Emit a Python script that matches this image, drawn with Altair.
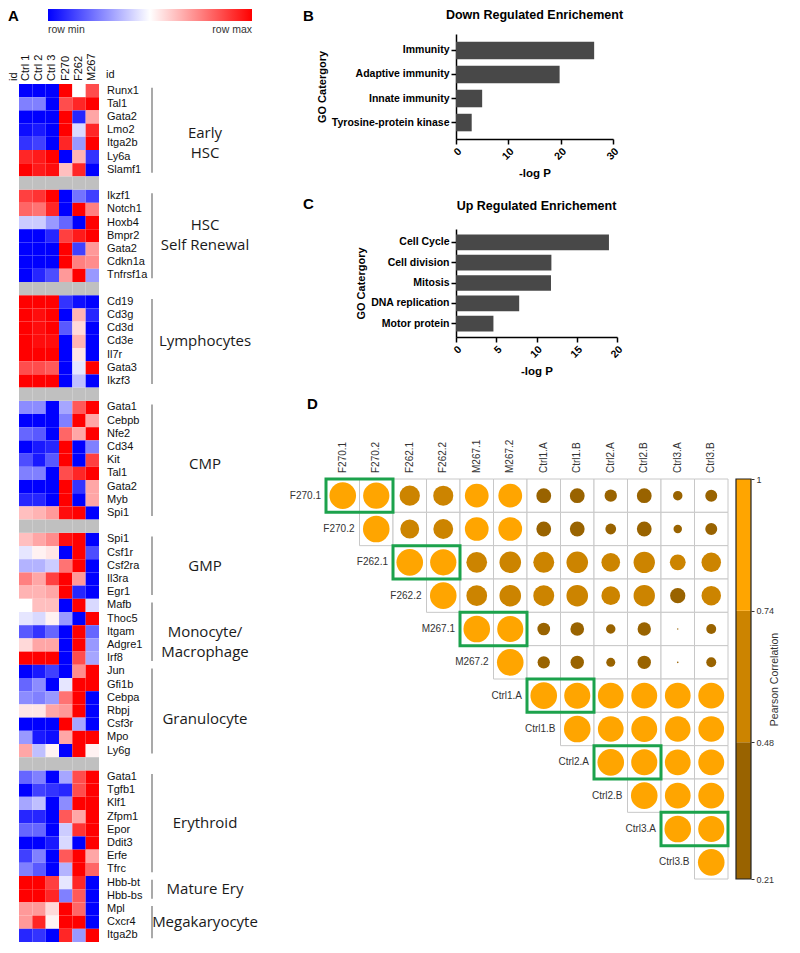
import altair as alt
import pandas as pd

# ---------------- Panel A : heatmap data ----------------
samples = ["Ctrl 1", "Ctrl 2", "Ctrl 3", "F270", "F262", "M267"]

early_hsc_genes = ["Runx1", "Tal1", "Gata2", "Lmo2", "Itga2b", "Ly6a", "Slamf1"]
early_hsc_vals = [
    [-1, -1, -1, 1, 0, 0.7],
    [-0.5, -0.5, -1, 0.7, 0.85, 1],
    [-1, -1, -1, 1, -0.85, 0.35],
    [-0.95, -0.9, -1, 1, -0.15, 0.85],
    [-0.8, -0.75, -1, 0.85, -0.4, 1],
    [0.85, 0.9, 1, -1, 0.3, -0.8],
    [1, 0.9, 0.95, 0.25, 0.85, -1],
]
hsc_sr_genes = ["Ikzf1", "Notch1", "Hoxb4", "Bmpr2", "Gata2", "Cdkn1a", "Tnfrsf1a"]
hsc_sr_vals = [
    [0.75, 0.8, 1, -1, -0.55, -0.75],
    [0.6, 0.55, 0.85, -1, 1, 0.5],
    [-0.2, -0.2, -0.4, -0.6, -1, 1],
    [-1, -1, -0.85, 0.75, 0.9, 1],
    [-1, -1, -1, 1, -0.75, 0.4],
    [-1, -1, -1, 1, 0.5, 0.45],
    [-1, -0.85, -0.7, 0.4, 1, -0.4],
]
lympho_genes = ["Cd19", "Cd3g", "Cd3d", "Cd3e", "Il7r", "Gata3", "Ikzf3"]
lympho_vals = [
    [1, 1, 1, -0.8, -0.95, -1],
    [1, 0.95, 1, -1, 0.3, -0.85],
    [1, 0.95, 1, -0.65, 0.15, -1],
    [1, 0.95, 0.95, -1, 0.3, -1],
    [1, 1, 1, -1, 0.1, -1],
    [0.7, 0.7, 0.65, -1, -0.1, 1],
    [1, 1, 1, -1, -0.25, -1],
]
cmp_genes = ["Gata1", "Cebpb", "Nfe2", "Cd34", "Kit", "Tal1", "Gata2", "Myb", "Spi1"]
cmp_vals = [
    [-0.45, -0.45, -1, -0.35, 0.65, 1],
    [-1, -1, -1, -0.5, 1, 0.35],
    [-0.6, -0.65, -1, 0.6, 0.35, 1],
    [-1, -0.9, -0.85, 1, -1, -0.5],
    [-0.7, -0.9, -0.65, 1, -1, 0.75],
    [-0.5, -0.5, -1, 0.7, 0.85, 1],
    [-1, -1, -1, 1, -0.8, 0.35],
    [-0.85, -0.85, -1, 1, -1, 0.35],
    [0.25, 0.3, 0.4, 0.95, 1, -1],
]
gmp_genes = ["Spi1", "Csf1r", "Csf2ra", "Il3ra", "Egr1"]
gmp_vals = [
    [0.25, 0.35, 0.45, 0.95, 1, -1],
    [-0.1, 0.05, 0.1, -1, 1, -0.7],
    [-0.3, -0.3, -0.2, 0.55, 1, -1],
    [0.5, 0.35, 0.75, 1, 0.4, -1],
    [0.3, 0.3, 0.35, 1, -0.85, -1],
]
mono_genes = ["Mafb", "Thoc5", "Itgam", "Adgre1", "Irf8"]
mono_vals = [
    [0.0, 0.25, 0.25, -1, 1, -0.15],
    [-0.1, -0.15, 0.05, -0.4, -1, 1],
    [-0.65, -0.8, -0.6, -1, 1, -0.6],
    [0.15, 0.35, 0.35, -1, 1, -0.4],
    [1, 1, 1, -1, 0.7, -0.35],
]
gran_genes = ["Jun", "Gfi1b", "Cebpa", "Rbpj", "Csf3r", "Mpo", "Ly6g"]
gran_vals = [
    [-1, -0.9, -0.75, -1, 0.45, 1],
    [-0.6, -0.45, -1, -0.1, 1, 1],
    [-0.45, -0.5, -0.4, 0.55, 1, -1],
    [0.1, 0.1, 0.35, 0.4, 1, -1],
    [-1, -1, -1, 1, -0.35, -1],
    [-0.4, -0.9, -0.95, 0.35, 1, 1],
    [0.35, -0.25, 0.05, -1, 1, 0.05],
]
ery_genes = ["Gata1", "Tgfb1", "Klf1", "Zfpm1", "Epor", "Ddit3", "Erfe", "Tfrc"]
ery_vals = [
    [-0.6, -0.5, -1, -0.35, 0.7, 1],
    [-1, -0.75, -0.8, -0.85, 0.7, 1],
    [-0.35, -0.25, -1, -0.45, 1, 1],
    [-0.85, -0.85, -1, 0.65, 0.35, 1],
    [-0.6, -0.6, -1, -0.2, 0.8, 1],
    [-1, -1, -0.9, -0.15, -1, 1],
    [-0.75, -0.5, -1, 0.65, 1, 0.35],
    [-0.5, -0.65, -1, -0.3, 1, 0.6],
]
mature_genes = ["Hbb-bt", "Hbb-bs"]
mature_vals = [
    [1, 1, 0.75, -0.1, 0.85, -1],
    [1, 1, 0.85, -0.5, 0.65, -1],
]
mega_genes = ["Mpl", "Cxcr4", "Itga2b"]
mega_vals = [
    [0.4, 0.4, 0.15, 1, 0.6, -1],
    [0.4, 0.85, 0.05, 1, 1, -1],
    [-0.85, -0.8, -1, 0.85, -0.4, 1],
]

group_names = ["Early\nHSC", "HSC\nSelf Renewal", "Lymphocytes", "CMP", "GMP",
               "Monocyte/\nMacrophage", "Granulocyte", "Erythroid", "Mature Ery",
               "Megakaryocyte"]
group_genes = [early_hsc_genes, hsc_sr_genes, lympho_genes, cmp_genes, gmp_genes,
               mono_genes, gran_genes, ery_genes, mature_genes, mega_genes]
group_vals = [early_hsc_vals, hsc_sr_vals, lympho_vals, cmp_vals, gmp_vals,
              mono_vals, gran_vals, ery_vals, mature_vals, mega_vals]
gap_after = [True, True, True, True, False, False, True, False, False, False]
label_shift = {"Early\nHSC": 0.2, "HSC\nSelf Renewal": -0.8, "CMP": 0.3, "Granulocyte": 0.6}

# ---------------- Panel B / C data ----------------
down_terms = ["Immunity", "Adaptive immunity", "Innate immunity", "Tyrosine-protein kinase"]
down_logp = [26.4, 19.8, 5.0, 3.0]
up_terms = ["Cell Cycle", "Cell division", "Mitosis", "DNA replication", "Motor protein"]
up_logp = [19.0, 11.85, 11.8, 7.85, 4.65]

# ---------------- Panel D data ----------------
corr_names = ["F270.1", "F270.2", "F262.1", "F262.2", "M267.1", "M267.2",
              "Ctrl1.A", "Ctrl1.B", "Ctrl2.A", "Ctrl2.B", "Ctrl3.A", "Ctrl3.B"]
corr_upper = [
    [1.00, 0.98, 0.67, 0.66, 0.84, 0.84, 0.455, 0.455, 0.38, 0.455, 0.31, 0.37],
    [1.00, 0.61, 0.65, 0.84, 0.84, 0.455, 0.455, 0.34, 0.455, 0.29, 0.37],
    [1.00, 0.98, 0.69, 0.73, 0.70, 0.73, 0.60, 0.72, 0.49, 0.635],
    [1.00, 0.69, 0.73, 0.70, 0.73, 0.60, 0.72, 0.47, 0.635],
    [1.00, 0.97, 0.39, 0.42, 0.31, 0.41, 0.212, 0.32],
    [1.00, 0.38, 0.41, 0.30, 0.41, 0.213, 0.32],
    [1.00, 0.97, 0.95, 0.96, 0.95, 0.96],
    [1.00, 0.95, 0.96, 0.94, 0.95],
    [1.00, 0.97, 0.95, 0.96],
    [1.00, 0.95, 0.96],
    [1.00, 0.97],
    [1.00],
]
replicate_rows = [0, 2, 4, 6, 8, 10]
corr_breaks = [0.21, 0.48, 0.74, 1.0]
corr_colors = ["#996300", "#cc8400", "#ffa500"]

# ================= build tables =================
heat_rows, gap_rows, gene_rows, rule_rows, glabel_rows = [], [], [], [], []
r = 0
for name, genes, vals, gap in zip(group_names, group_genes, group_vals, gap_after):
    start = r
    for g, v in zip(genes, vals):
        for s, val in zip(samples, v):
            heat_rows.append({"gene": g, "sample": s, "value": val, "r0": r, "r1": r + 1})
        gene_rows.append({"gene": g, "rc": r + 0.5})
        r += 1
    end = r
    rule_rows.append({"g0": start + 0.28, "g1": end - 0.28})
    glabel_rows.append({"label": name, "gc": (start + end) / 2 + label_shift.get(name, 0)})
    if gap:
        for s in samples:
            gap_rows.append({"sample": s, "r0": r, "r1": r + 1})
        r += 1
n_rows = r

df_heat = pd.DataFrame(heat_rows)
df_gap = pd.DataFrame(gap_rows)
df_genes = pd.DataFrame(gene_rows)
df_rules = pd.DataFrame(rule_rows)
df_glabels = pd.DataFrame(glabel_rows)
df_samples = pd.DataFrame({"sample": samples})

FONT = "Liberation Sans"

xsA = alt.Scale(domain=samples, range=[11, 91], paddingInner=0, paddingOuter=0)
ysA = alt.Scale(domain=[0, n_rows], range=[50, 908], nice=False, zero=False)

heat = alt.Chart(df_heat).mark_rect().encode(
    x=alt.X("sample:N", scale=xsA, axis=None),
    y=alt.Y("r0:Q", scale=ysA, axis=None),
    y2="r1",
    color=alt.Color(
        "value:Q",
        scale=alt.Scale(domain=[-1, 0, 1], range=["#0000ff", "#ffffff", "#ff0000"], interpolate="rgb"),
        legend=alt.Legend(
            orient="none", legendX=40, legendY=-25, direction="horizontal",
            gradientLength=204, gradientThickness=12, title=None, values=[-1, 1],
            labelExpr="datum.value < 0 ? 'row min' : 'row max'", labelAlign="center",
            labelFontSize=10.5, labelColor="#333", labelOffset=4, padding=0,
            gradientStrokeWidth=0, labelFont=FONT,
        ),
    ),
)
gaps = alt.Chart(df_gap).mark_rect(color="#c0c0c0").encode(
    x=alt.X("sample:N", scale=xsA, axis=None),
    y=alt.Y("r0:Q", scale=ysA, axis=None),
    y2="r1",
)
headers = alt.Chart(df_samples).mark_text(angle=270, align="left", baseline="middle",
                                          fontSize=11, color="#111").encode(
    x=alt.X("sample:N", scale=xsA, axis=None),
    y=alt.value(47),
    text="sample:N",
)
id_rot = alt.Chart(pd.DataFrame({"t": ["id"]})).mark_text(
    angle=270, align="left", baseline="middle", fontSize=11, color="#111"
).encode(x=alt.value(6), y=alt.value(47), text="t:N")
id_flat = alt.Chart(pd.DataFrame({"t": ["id"]})).mark_text(
    align="left", baseline="alphabetic", fontSize=11, color="#111"
).encode(x=alt.value(98), y=alt.value(44), text="t:N")
gene_text = alt.Chart(df_genes).mark_text(align="left", baseline="middle", fontSize=11,
                                          color="#111").encode(
    x=alt.value(99),
    y=alt.Y("rc:Q", scale=ysA, axis=None),
    text="gene:N",
)
group_rules = alt.Chart(df_rules).mark_rule(color="#8c8c8c", strokeWidth=1.5).encode(
    x=alt.value(144),
    y=alt.Y("g0:Q", scale=ysA, axis=None),
    y2="g1",
)
group_text = alt.Chart(df_glabels).mark_text(
    font="Open Sans", fontSize=15, align="center", baseline="middle",
    lineBreak="\n", lineHeight=20, color="#1a1a1a"
).encode(
    x=alt.value(197),
    y=alt.Y("gc:Q", scale=ysA, axis=None),
    text="label:N",
)


def panel_letter(letter, px, py):
    return alt.Chart(pd.DataFrame({"t": [letter]})).mark_text(
        fontSize=15, fontWeight="bold", align="left", baseline="alphabetic", color="black"
    ).encode(x=alt.value(px), y=alt.value(py), text="t:N")


# letters A, B, C sit in the tall left layer so that they do not push the B/C titles
panel_a = alt.layer(heat, gaps, headers, id_rot, id_flat, gene_text, group_rules,
                    group_text, panel_letter("A", 0, -13), panel_letter("B", 295, -13),
                    panel_letter("C", 295, 175)
                    ).properties(width=262, height=908)

# ================= B & C =================
axis_common = dict(domainColor="black", domainWidth=1.5, tickColor="black", tickWidth=1.5,
                   tickSize=5, labelColor="black", labelFontWeight="bold",
                   titleFontWeight="bold", titleColor="black", grid=False,
                   labelFont=FONT, titleFont=FONT, labelPadding=2)


def bar_panel(terms, vals, xmax, xticks, title, pin, pout, height, width, title_offset):
    df = pd.DataFrame({"cat": terms, "v": vals})
    bars = alt.Chart(df).mark_bar(color="#484848").encode(
        x=alt.X("v:Q", scale=alt.Scale(domain=[0, xmax], nice=False),
                axis=alt.Axis(values=xticks, labelAngle=315, title="-log P",
                              labelFontSize=10.5, titleFontSize=11.5, titlePadding=6,
                              **axis_common)),
        y=alt.Y("cat:N", sort=terms,
                scale=alt.Scale(paddingInner=pin, paddingOuter=pout),
                axis=alt.Axis(title="GO Catergory", labelFontSize=10.5, titleFontSize=11,
                              titlePadding=4, **axis_common)),
    )
    return bars.properties(
        width=width, height=height,
        title=alt.TitleParams(title, fontSize=12.5, fontWeight="bold", font=FONT,
                              color="black", anchor="middle", offset=title_offset),
    )


panel_b = bar_panel(down_terms, down_logp, 30, [0, 10, 20, 30],
                    "Down Regulated Enrichement", 0.27, 0.32, 105, 157, 13)
panel_c = bar_panel(up_terms, up_logp, 20, [0, 5, 10, 15, 20],
                    "Up Regulated Enrichement", 0.23, 0.27, 108, 161, 17)

# ================= D =================
cell_rows = []
for i, row in enumerate(corr_upper):
    for k, val in enumerate(row):
        j = i + k
        cell_rows.append({"x0": j, "x1": j + 1, "xc": j + 0.5,
                          "y0": i, "y1": i + 1, "yc": i + 0.5, "r": val})
df_corr = pd.DataFrame(cell_rows)
df_names = pd.DataFrame({"name": corr_names,
                         "x0": list(range(12)),
                         "xc": [i + 0.5 for i in range(12)],
                         "yc": [i + 0.5 for i in range(12)]})
df_pairs = pd.DataFrame({"x0": replicate_rows, "x1": [i + 2 for i in replicate_rows],
                         "y0": replicate_rows, "y1": [i + 1 for i in replicate_rows]})
df_cb = pd.DataFrame({"lo": corr_breaks[:-1], "hi": corr_breaks[1:]})
df_cb_out = pd.DataFrame({"lo": [corr_breaks[0]], "hi": [corr_breaks[-1]]})

xsD = alt.Scale(domain=[0, 12], range=[-130, 272], nice=False, zero=False)
ysD = alt.Scale(domain=[0, 12], range=[52, 452], nice=False, zero=False)
ysCB = alt.Scale(domain=[corr_breaks[0], corr_breaks[-1]], range=[452, 52], nice=False, zero=False)
colD = alt.Scale(type="threshold", domain=corr_breaks[1:3], range=corr_colors)

grid = alt.Chart(df_corr).mark_rect(fill="white", stroke="#c8c8c8", strokeWidth=1).encode(
    x=alt.X("x0:Q", scale=xsD, axis=None), x2="x1",
    y=alt.Y("y0:Q", scale=ysD, axis=None), y2="y1",
)
circles = alt.Chart(df_corr).mark_circle(opacity=1).encode(
    x=alt.X("xc:Q", scale=xsD, axis=None),
    y=alt.Y("yc:Q", scale=ysD, axis=None),
    size=alt.Size("r:Q", scale=alt.Scale(domain=[corr_breaks[0], 1], range=[0, 707], zero=False),
                  legend=None),
    color=alt.Color("r:Q", scale=colD, legend=None),
)
boxes = alt.Chart(df_pairs).mark_rect(fillOpacity=0, stroke="#1ca24c", strokeWidth=3).encode(
    x=alt.X("x0:Q", scale=xsD, axis=None), x2="x1",
    y=alt.Y("y0:Q", scale=ysD, axis=None), y2="y1",
)
col_labels = alt.Chart(df_names).mark_text(angle=270, align="left", baseline="middle",
                                           fontSize=10, color="#333").encode(
    x=alt.X("xc:Q", scale=xsD, axis=None), y=alt.value(46), text="name:N",
)
row_labels = alt.Chart(df_names).mark_text(align="right", baseline="middle", dx=-5,
                                           fontSize=10, color="#333").encode(
    x=alt.X("x0:Q", scale=xsD, axis=None),
    y=alt.Y("yc:Q", scale=ysD, axis=None),
    text="name:N",
)
cbar = alt.Chart(df_cb).mark_rect().encode(
    x=alt.value(280), x2=alt.value(295),
    y=alt.Y("lo:Q", scale=ysCB,
            axis=alt.Axis(orient="right", offset=23, values=corr_breaks, domain=False,
                          tickSize=3, tickColor="#333", labelPadding=2, labelFontSize=9,
                          labelColor="#333", labelFont=FONT,
                          labelExpr="datum.value == 1 ? '1' : format(datum.value, '.2f')",
                          title="Pearson Correlation", titleAngle=270, titleFontSize=10.5,
                          titleFontWeight="normal", titleColor="#333", titlePadding=6,
                          titleFont=FONT, grid=False)),
    y2="hi",
    color=alt.Color("lo:Q", scale=colD, legend=None),
)
cbar_out = alt.Chart(df_cb_out).mark_rect(fillOpacity=0, stroke="#222", strokeWidth=1.2).encode(
    x=alt.value(280), x2=alt.value(295),
    y=alt.Y("lo:Q", scale=ysCB, axis=None), y2="hi",
)

panel_d = alt.layer(grid, circles, boxes, col_labels, row_labels, panel_letter("D", -149, -18),
                    cbar, cbar_out
                    ).resolve_scale(y="independent").properties(width=272, height=452)

right = alt.vconcat(panel_b, panel_c, panel_d, spacing=90, bounds="flush")

chart = alt.hconcat(panel_a, right, spacing=186, bounds="flush").properties(
    padding=0
).configure(font=FONT).configure_view(stroke=None)

chart.save("out.html", embed_options={"renderer": "svg", "actions": False})
